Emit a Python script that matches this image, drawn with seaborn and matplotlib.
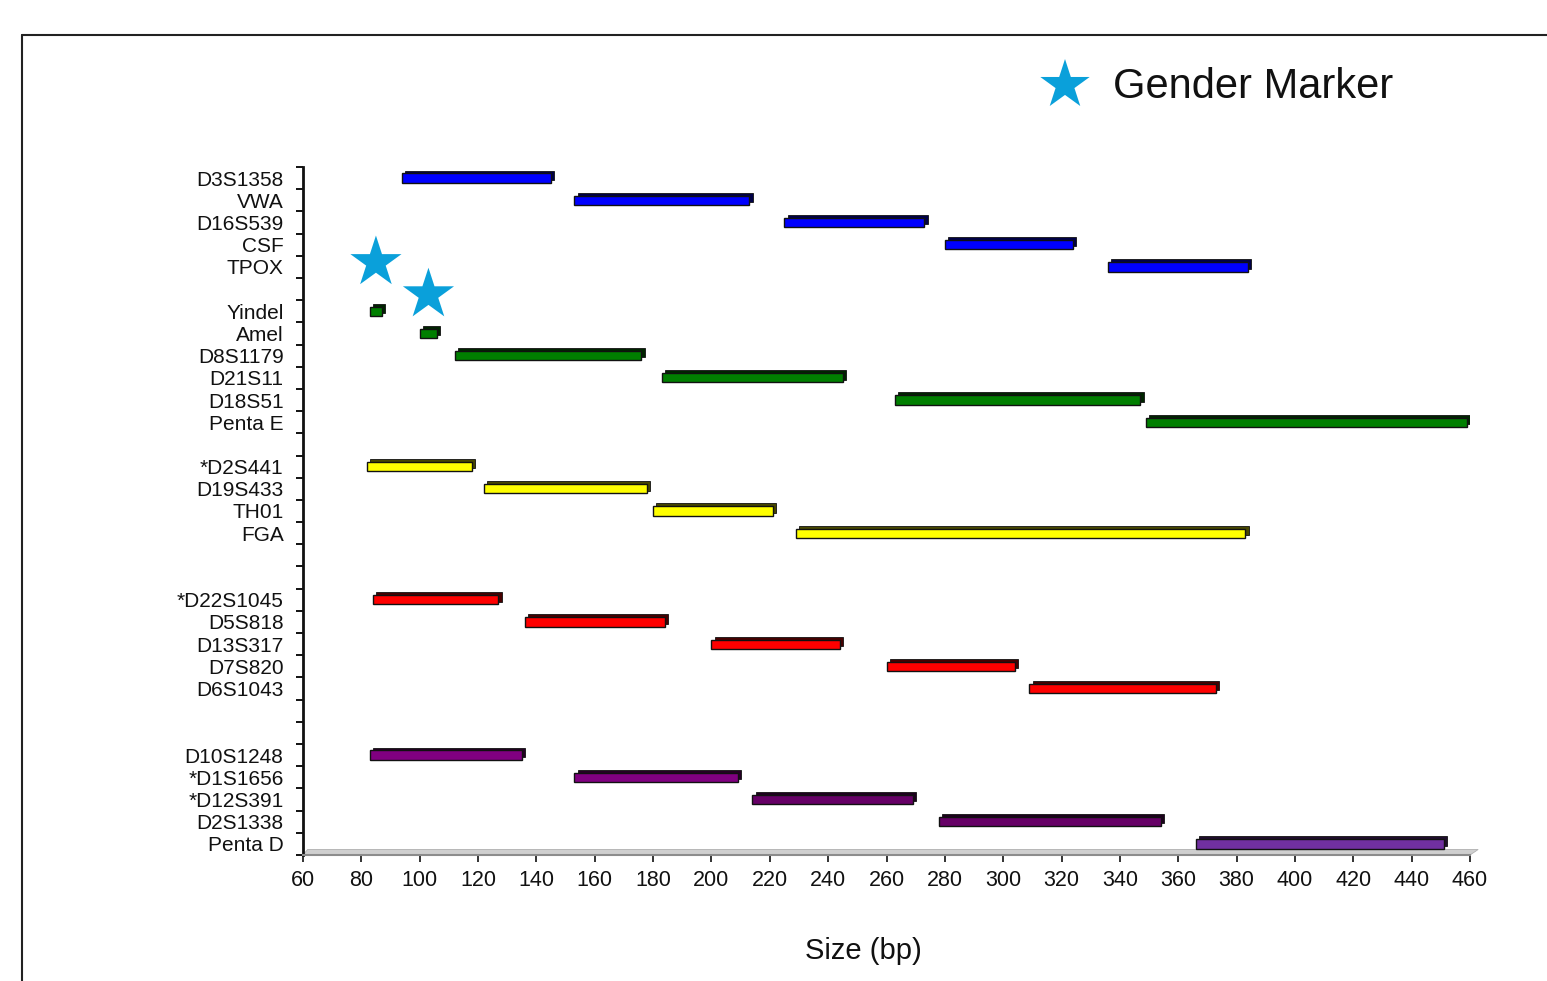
import matplotlib
matplotlib.use("Agg")
import numpy as np
import pandas as pd
import matplotlib.pyplot as plt
import seaborn as sns
from matplotlib.colors import to_rgb
from matplotlib.lines import Line2D
from matplotlib.patches import Polygon

# ---------------- data ----------------
blue_loci = ["D3S1358", "VWA", "D16S539", "CSF", "TPOX"]
blue_start = [94, 153, 225, 280, 336]
blue_end = [145, 213, 273, 324, 384]

green_loci = ["Yindel", "Amel", "D8S1179", "D21S11", "D18S51", "Penta E"]
green_start = [83, 100, 112, 183, 263, 349]
green_end = [87, 106, 176, 245, 347, 459]

yellow_loci = ["*D2S441", "D19S433", "TH01", "FGA"]
yellow_start = [82, 122, 180, 229]
yellow_end = [118, 178, 221, 383]

red_loci = ["*D22S1045", "D5S818", "D13S317", "D7S820", "D6S1043"]
red_start = [84, 136, 200, 260, 309]
red_end = [127, 184, 244, 304, 373]

purple_loci = ["D10S1248", "*D1S1656", "*D12S391", "D2S1338", "Penta D"]
purple_start = [83, 153, 214, 278, 366]
purple_end = [135, 209, 269, 354, 451]

blue_colors = ["#0000FF"] * 5
green_colors = ["#007F00"] * 6
yellow_colors = ["#FFFF00"] * 4
red_colors = ["#FF0000"] * 5
purple_colors = ["#800080", "#800080", "#660066", "#660066", "#7030A0"]

gender_loci = ["Yindel", "Amel"]
gender_star_lift = [2.2, 1.75]   # stars float above their bars (rows)

xticks = list(range(60, 461, 20))
x_label = "Size (bp)"
legend_label = "Gender Marker"
star_color = "#0AA0DA"

# ---------------- build table ----------------
groups = [
    (blue_loci, blue_start, blue_end, blue_colors, 1),
    (green_loci, green_start, green_end, green_colors, 1),
    (yellow_loci, yellow_start, yellow_end, yellow_colors, 2),
    (red_loci, red_start, red_end, red_colors, 2),
    (purple_loci, purple_start, purple_end, purple_colors, 0),
]
rows = []
r = 0
for loci, st, en, cols, gap in groups:
    for name, s, e, c in zip(loci, st, en, cols):
        rows.append(dict(locus=name, start=s, end=e, color=c, row=r))
        r += 1
    r += gap
df = pd.DataFrame(rows)
n_rows = r

# ---------------- figure ----------------
sns.set_theme(style="white")
plt.rcParams["font.family"] = ["Liberation Sans", "DejaVu Sans"]

W, H = 1547, 981
fig = plt.figure(figsize=(W / 100, H / 100), dpi=100)
ax = fig.add_axes([303 / W, 1 - 855 / H, 1167 / W, 688 / H])

h = 0.42
dx = 1.1
dy = 0.13


def darker(c, f=0.28):
    return tuple(np.array(to_rgb(c)) * f)


# depth (back) faces
ax.barh(df["row"] - dy, df["end"] - df["start"], left=df["start"] + dx,
        height=h, color=[darker(c) for c in df["color"]],
        edgecolor="#111111", linewidth=0.6, zorder=2)
# front faces
ax.barh(df["row"], df["end"] - df["start"], left=df["start"],
        height=h, color=df["color"], edgecolor="#111111",
        linewidth=1.0, zorder=3)

# gender marker stars
gdf = df[df["locus"].isin(gender_loci)].copy()
gdf["sx"] = (gdf["start"] + gdf["end"]) / 2
gdf["sy"] = gdf["row"].values - np.array(gender_star_lift)
sns.scatterplot(data=gdf, x="sx", y="sy", marker="*", s=1500,
                color=star_color, edgecolor="none", ax=ax, zorder=4,
                legend=False)

ax.set_xlim(xticks[0], xticks[-1])
ax.set_ylim(n_rows - 0.5, -0.5)

ax.set_xticks(xticks)
ax.set_xticklabels([str(t) for t in xticks])
for lab in ax.get_xticklabels():
    lab.set_family(["Liberation Sans Narrow", "Liberation Sans", "DejaVu Sans"])
    lab.set_fontsize(15.5)

ax.set_yticks(df["row"])
ax.set_yticklabels(df["locus"], fontsize=15)
ax.set_yticks(np.arange(-0.5, n_rows, 1.0), minor=True)
ax.set_ylabel("")

ax.tick_params(axis="y", which="major", length=0, pad=14, colors="#111111")
ax.tick_params(axis="y", which="minor", left=True, length=5, width=1.4,
               direction="out", color="#111111")
ax.tick_params(axis="x", which="major", bottom=True, length=5, width=1.2,
               direction="out", color="#111111", pad=6, labelcolor="#111111")

ax.set_xlabel(x_label, fontsize=21, color="#111111")
ax.xaxis.set_label_coords((863 - 303) / 1167, (855 - 937) / 688)

for s in ["top", "right"]:
    ax.spines[s].set_visible(False)
ax.spines["left"].set_color("#111111")
ax.spines["left"].set_linewidth(2)
ax.spines["bottom"].set_color("#8c8c8c")
ax.spines["bottom"].set_linewidth(1.5)

# grey 3D floor
floor = Polygon([(0, 0), (1.0, 0), (1.007, 0.008), (0.004, 0.008)],
                closed=True, transform=ax.transAxes, facecolor="#cfcfcf",
                edgecolor="#b0b0b0", linewidth=0.6, clip_on=False, zorder=1)
ax.add_patch(floor)

# legend (star + text)
ax.scatter([1065 / W], [1 - 85 / H], marker="*", s=1400, color=star_color,
           edgecolor="none", transform=fig.transFigure, clip_on=False)
fig.text(1113 / W, 1 - 87 / H, legend_label, fontsize=30, va="center",
         ha="left", color="#111111")

# outer frame (top and left lines)
fig.add_artist(Line2D([22 / W, 22 / W], [0, 1 - 35 / H], color="#222222",
                      linewidth=1.5, transform=fig.transFigure))
fig.add_artist(Line2D([22 / W, 1], [1 - 35 / H, 1 - 35 / H], color="#222222",
                      linewidth=1.5, transform=fig.transFigure))

fig.savefig("out.png", dpi=100)
